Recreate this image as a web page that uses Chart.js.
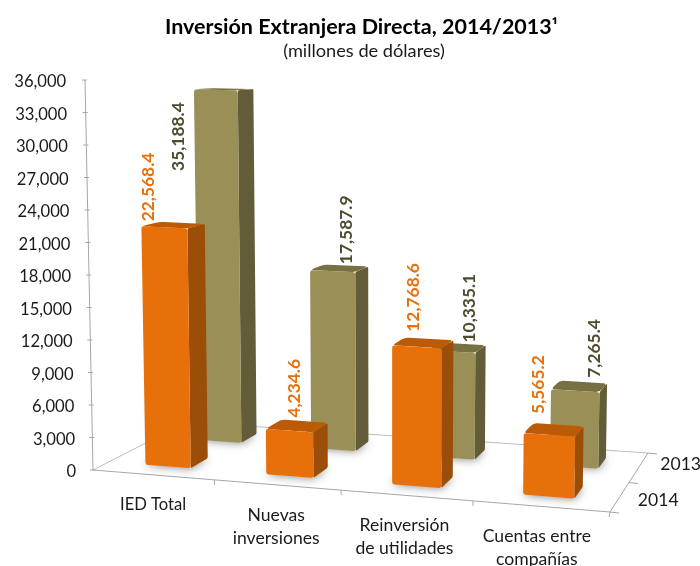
<!DOCTYPE html>
<html>
<head>
<meta charset="utf-8">
<title>Inversión Extranjera Directa</title>
<script src="https://cdn.jsdelivr.net/npm/chart.js@4"></script>
<style>
  html, body { margin: 0; padding: 0; background: #fff; }
  canvas { display: block; }
</style>
</head>
<body>
<canvas id="iedChart" width="700" height="566"></canvas>
<script>
const categories = [['IED Total'], ['Nuevas', 'inversiones'], ['Reinversión', 'de utilidades'], ['Cuentas entre', 'compañías']];
const seriesNames = ['2013', '2014'];
const values2013 = [35188.4, 17587.9, 10335.1, 7265.4];
const values2014 = [22568.4, 4234.6, 12768.6, 5565.2];
const yMax = 36000;
const yStep = 3000;

// floor of the 3D box, as seen in the picture
const floor = { fl: [93, 470], fr: [610, 512], bl: [187, 422], br: [648, 453] };
const depthBands = [[0.69, 0.87], [0.17, 0.37]]; // 2013 row, 2014 row
const sideGray = '#a6a6a6';
const fontName = 'Lato, "Open Sans", sans-serif';

const looks = [
    { front: '#9a8f57', side: '#625c38', top: '#777042', text: '#4f4b2e' },
    { front: '#e8700b', side: '#9a4e07', top: '#bd5a06', text: '#e8700b' }
];

// label anchor (text start) relative to the top of the bar's front face
const labelNudge = [
    [[-37, 81], [14, -7], [18, -9], [19, -13]],
    [[-16, -6], [5, -13], [-4, -15], [-11, -21]]
];

function warp(u) { return u - 0.08 * u * (1 - u); }

function project(u, v, h) {
    const a = warp(u);
    const mix = (k) => (1 - a) * (1 - v) * floor.fl[k] + a * (1 - v) * floor.fr[k] + (1 - a) * v * floor.bl[k] + a * v * floor.br[k];
    const px = h * (0.99 - 0.11 * v + 0.06 * a);
    const x = mix(0);
    return [x + (x - 390) * px * 0.000069, mix(1) - px];
}

// polygon with slightly rounded corners, like the bevel on the original bars
function poly(ctx, pts, fill, radius) {
    const n = pts.length;
    const toward = (p, q, r) => {
        const d = Math.hypot(q[0] - p[0], q[1] - p[1]) || 1;
        const k = Math.min(r, d / 2) / d;
        return [p[0] + (q[0] - p[0]) * k, p[1] + (q[1] - p[1]) * k];
    };
    ctx.beginPath();
    pts.forEach((p, i) => {
        const a = toward(p, pts[(i + n - 1) % n], radius);
        const b = toward(p, pts[(i + 1) % n], radius);
        if (i) ctx.lineTo(a[0], a[1]); else ctx.moveTo(a[0], a[1]);
        ctx.quadraticCurveTo(p[0], p[1], b[0], b[1]);
    });
    ctx.closePath();
    ctx.fillStyle = fill;
    ctx.fill();
}

function line(ctx, a, b, color) {
    ctx.beginPath();
    ctx.moveTo(a[0], a[1]);
    ctx.lineTo(b[0], b[1]);
    ctx.strokeStyle = color || sideGray;
    ctx.lineWidth = 1;
    ctx.stroke();
}

function text(ctx, str, x, y, font, color, align) {
    ctx.font = font;
    ctx.fillStyle = color;
    ctx.textAlign = align || 'center';
    ctx.textBaseline = 'middle';
    ctx.fillText(str, x, y);
}

const box3dPlugin = {
    id: 'box3d',
    beforeDatasetsDraw(chart) {
        const { ctx, chartArea, scales } = chart;
        const toU = (px) => (px - chartArea.left) / chartArea.width;
        // the back row sits a little further right than the bilinear floor gives
        const rowShift = (s, u) => (s === 0 ? 0.016 - 0.014 * u : 0);
        ctx.save();

        // floor edges
        line(ctx, floor.fl, floor.bl, '#bdbdbd');
        line(ctx, floor.bl, floor.br, '#bdbdbd');
        line(ctx, floor.fl, floor.fr);
        line(ctx, floor.fr, floor.br);

        // y axis, on the full scale (project shrinks heights slightly)
        const axisPoint = (px) => project(0, 0, px / 0.99);
        line(ctx, axisPoint(0), axisPoint(scales.y.bottom - scales.y.top));
        scales.y.ticks.forEach((tick, i) => {
            const p = axisPoint(scales.y.bottom - scales.y.getPixelForTick(i));
            line(ctx, [p[0] - 3, p[1]], [p[0] + 2, p[1]]);
            text(ctx, tick.label, p[0] - 17 - i * 0.15, p[1] + 2, '16.6px ' + fontName, '#1a1a1a', 'right');
        });

        // x axis ticks and labels
        categories.forEach((lines, i) => {
            const mid = toU(scales.x.getPixelForValue(i));
            const edge = project(mid + 0.125, 0, 0);
            if (i === 3) {
                line(ctx, floor.fr, [floor.fr[0] - 1, floor.fr[1] + 5]);
            } else {
                line(ctx, edge, [edge[0], edge[1] + 5]);
            }
            const c = project(mid, 0, 0);
            const size = i === 0 ? '16.6px ' : '17.6px ';
            lines.forEach((s, k) => text(ctx, s, c[0] - i - (i === 3 ? 1 : 0), c[1] + 30 + k * 23, size + fontName, '#1a1a1a'));
        });

        // depth axis ticks and labels
        [0, 0.5, 1].forEach((v) => {
            const p = project(1, v, 0);
            line(ctx, p, [p[0] + 9, p[1] + 1]);
        });
        seriesNames.forEach((name, s) => {
            const p = project(1, (depthBands[s][0] + depthBands[s][1]) / 2, 0);
            text(ctx, name, p[0] + (s ? 38 : 41), p[1] + (s ? 4 : -2), '17.6px ' + fontName, '#1a1a1a');
        });

        // bars, back row first
        chart.data.datasets.forEach((ds, s) => {
            const look = looks[s];
            const [v0, v1] = depthBands[s];
            chart.getDatasetMeta(s).data.forEach((bar) => {
                const u0 = toU(bar.x - bar.width / 2) + rowShift(s, toU(bar.x));
                const u1 = toU(bar.x + bar.width / 2) + rowShift(s, toU(bar.x));
                const h = bar.base - bar.y;
                ctx.save();
                ctx.shadowColor = 'rgba(0,0,0,0.5)';
                ctx.shadowBlur = 10;
                poly(ctx, [project(u0, v0, 0), project(u1, v0, 0), project(u1, v1, 0), project(u0, v1, 0)], '#ddd', 0);
                ctx.restore();
                poly(ctx, [project(u1, v0, 0), project(u1, v1, 0), project(u1, v1, h), project(u1, v0, h)], look.side, 1.5);
                poly(ctx, [project(u0, v0, h), project(u1, v0, h), project(u1, v1, h), project(u0, v1, h)], look.top, 4);
                poly(ctx, [project(u0, v0, 0), project(u1, v0, 0), project(u1, v0, h), project(u0, v0, h)], look.front, 2.5);
            });
        });

        // value labels, rotated
        chart.data.datasets.forEach((ds, s) => {
            const [v0] = depthBands[s];
            chart.getDatasetMeta(s).data.forEach((bar, i) => {
                const uMid = toU(bar.x) + rowShift(s, toU(bar.x));
                const top = project(uMid, v0, bar.base - bar.y);
                const str = ds.data[i].toLocaleString('en-US', { minimumFractionDigits: 1, maximumFractionDigits: 1 });
                ctx.save();
                ctx.translate(top[0] + labelNudge[s][i][0], top[1] + labelNudge[s][i][1]);
                ctx.rotate(-Math.PI / 2);
                text(ctx, str, 0, 0, 'bold 17.4px ' + fontName, looks[s].text, 'left');
                ctx.restore();
            });
        });

        // titles
        const mainTitle = 'Inversión Extranjera Directa, 2014/2013';
        text(ctx, mainTitle, 165, 27, 'bold 21.5px ' + fontName, '#000', 'left');
        const titleEnd = 165 + ctx.measureText(mainTitle).width;
        text(ctx, '¹', titleEnd, 26, 'bold 16px "Noto Sans", ' + fontName, '#000', 'left');
        text(ctx, '(millones de dólares)', 364, 51, '18.2px ' + fontName, '#1a1a1a');

        ctx.restore();
        return false; // bars are already painted in 3D
    }
};

new Chart(document.getElementById('iedChart'), {
    type: 'bar',
    data: {
        labels: categories,
        datasets: [
            { label: seriesNames[0], data: values2013, backgroundColor: looks[0].front },
            { label: seriesNames[1], data: values2014, backgroundColor: looks[1].front }
        ]
    },
    options: {
        responsive: false,
        animation: false,
        layout: { padding: { left: 93, right: 90, top: 81, bottom: 95 } },
        datasets: { bar: { grouped: false, barPercentage: 0.38, categoryPercentage: 1 } },
        plugins: { legend: { display: false }, tooltip: { enabled: false } },
        scales: {
            x: { display: false },
            y: {
                display: false,
                min: 0,
                max: yMax,
                ticks: { stepSize: yStep, callback: (v) => v.toLocaleString('en-US') }
            }
        }
    },
    plugins: [box3dPlugin]
});
</script>
</body>
</html>
